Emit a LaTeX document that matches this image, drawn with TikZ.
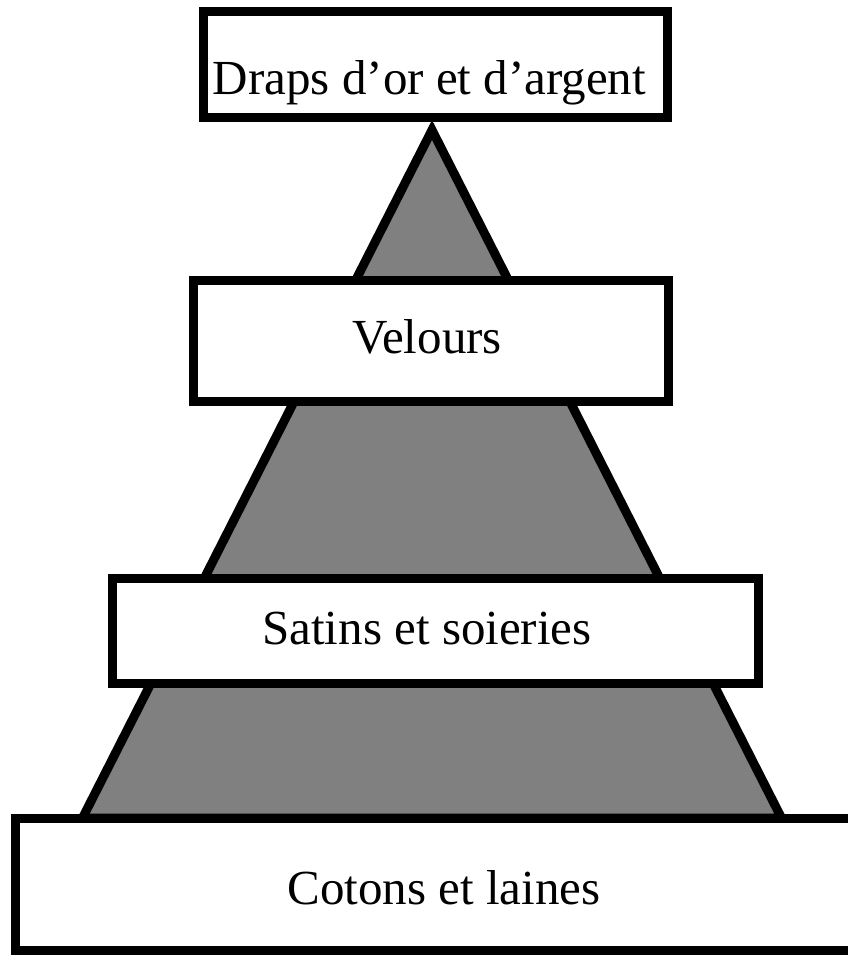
\documentclass[tikz,border=0pt]{standalone}
\usepackage{fontspec}
\setmainfont{Liberation Serif}
\definecolor{pyrgray}{HTML}{808080}
\begin{document}
\begin{tikzpicture}[x=1pt,y=-1pt,
  box/.style={draw=black, fill=white, line width=9pt, rectangle, inner sep=0pt, outer sep=0pt},
  lbl/.style={anchor=base, inner sep=0pt, font=\fontsize{49}{59}\selectfont},
  pyr/.style={draw=black, fill=pyrgray, line width=9pt, line join=miter}]
\useasboundingbox (0,0) rectangle (848,958);
\coordinate (apex) at (432,130);
\coordinate (bl) at (82.5,818);
\coordinate (br) at (781.5,818);
\filldraw[pyr] (apex) -- (bl) -- (br) -- cycle;
\node[box, minimum width=464pt, minimum height=105pt] (top) at (435,64.5) {};
\node[box, minimum width=475pt, minimum height=121pt] (vel) at (430.5,340.5) {};
\node[box, minimum width=646pt, minimum height=105pt] (sat) at (435,630.5) {};
\node[box, minimum width=837pt, minimum height=132pt] (cot) at (433.5,884) {};
\node[lbl] (tTop) at (429.5,94) {Draps d’or et d’argent};
\node[lbl] (tVel) at (427,353) {Velours};
\node[lbl] (tSat) at (427,644) {Satins et soieries};
\node[lbl] (tCot) at (444,904) {Cotons et laines};
\end{tikzpicture}
\end{document}
